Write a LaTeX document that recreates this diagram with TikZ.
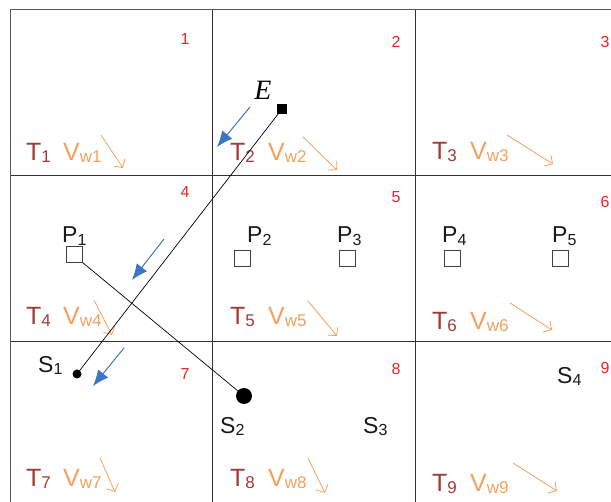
\documentclass[tikz,border=0pt]{standalone}
\usepackage{fontspec}
\setmainfont{Liberation Sans}
\newfontfamily\serifE{Liberation Serif}
\usetikzlibrary{arrows.meta}
\definecolor{tred}{HTML}{A23B36}
\definecolor{vorange}{HTML}{F4A05C}
\definecolor{nred}{HTML}{EE2229}
\definecolor{eblue}{HTML}{3A76C2}
\newcommand\lsub[3]{\raisebox{#1}{\fontsize{#2}{#2}\selectfont #3}}
\begin{document}
\begin{tikzpicture}[x=1pt,y=-1pt,
  grid/.style={line width=1pt, black!80},
  tlab/.style={anchor=base west, inner sep=0pt, text=tred, font=\fontsize{25}{25}\selectfont},
  vlab/.style={anchor=base west, inner sep=0pt, text=vorange, font=\fontsize{25}{25}\selectfont},
  num/.style={text=nred, font=\fontsize{16}{16}\selectfont, inner sep=0pt},
  plab/.style={anchor=base west, inner sep=0pt, text=black!90, font=\fontsize{23}{23}\selectfont},
  psq/.style={draw=black!75, line width=0.8pt, minimum size=16pt, inner sep=0pt},
  wind/.style={vorange, line width=0.8pt, -{Straight Barb[length=6pt,width=13pt]}},
  flow/.style={eblue, line width=1pt, -{Latex[length=16pt,width=13pt]}},
  link/.style={black, line width=0.7pt},
  dot/.style={circle, fill=black, inner sep=0pt},
]
\useasboundingbox (0,0) rectangle (611,502);
% grid
\draw[grid, black!65] (10.5,502) -- (10.5,10) -- (611,10);
\draw[grid] (212,10) -- (212,502);
\draw[grid] (415.5,10) -- (415.5,502);
\draw[grid] (10.5,175.5) -- (611,175.5);
\draw[grid] (10.5,341.5) -- (611,341.5);
% cell numbers
\foreach \n/\x/\y in {1/185/39,2/396/42,3/605/42,4/185/192,5/396/197,6/605/202,7/185/374,8/396/369,9/605/368}
  \node[num] (n\n) at (\x,\y) {\n};
% T and V labels
\foreach \n/\tx/\vx/\y in {1/26/63/161,2/230/268/161,3/432/470/160,4/26/63/325,5/230/268/325,6/432/470/330,7/26/63/487,8/230/268/487,9/432/470/492}{
  \node[tlab] (t\n) at (\tx,\y) {T\lsub{-1.5pt}{17}{\n}};
  \node[vlab] (v\n) at (\vx,\y) {V\lsub{-1.5pt}{17}{w\n}};
}
% wind arrows
\foreach \i/\a/\b/\c/\d in {1/101/135/123/168,2/303/137/337/170,3/507/135/553/164,4/94/300/112/335,5/308/301/337/336,6/510/303/552/330,7/100/458/115/492,8/308/458/325/493,9/513/463/557/491}{
  \coordinate (ws\i) at (\a,\b);
  \coordinate (we\i) at (\c,\d);
  \draw[wind] (ws\i) -- (we\i);
}
% P squares and labels
\foreach \n/\x/\y/\lx in {1/74/254/62,2/242/258/247,3/347/258/337,4/452/258/442,5/560/258/552}{
  \node[psq] (P\n) at (\x,\y) {};
  \node[plab] (pl\n) at (\lx,243) {P\lsub{-3pt}{16}{\n}};
}
% E source
\node[fill=black, minimum size=10pt, inner sep=0pt] (Esq) at (282,109) {};
\node[font=\serifE\itshape\fontsize{28}{28}\selectfont, inner sep=0pt] (Elab) at (263,90) {E};
% S points
\node[dot, minimum size=9pt] (S1) at (77,374) {};
\node[dot, minimum size=16pt] (S2) at (244,396) {};
\node[plab] (sl1) at (38,373) {S\lsub{-2pt}{16}{1}};
\node[plab] (sl2) at (220,434) {S\lsub{-2pt}{16}{2}};
\node[plab] (sl3) at (363,434) {S\lsub{-2pt}{16}{3}};
\node[plab] (sl4) at (557,384) {S\lsub{-2pt}{16}{4}};
% links
\draw[link] (Esq.center) -- (S1.center);
\draw[link] (P1.south east) -- (S2.center);
% blue flow arrows
\coordinate (fa1) at (250,107); \coordinate (fb1) at (217,147);
\coordinate (fa2) at (164,239); \coordinate (fb2) at (132,280);
\coordinate (fa3) at (124,348); \coordinate (fb3) at (93,386);
\draw[flow] (fa1) -- (fb1);
\draw[flow] (fa2) -- (fb2);
\draw[flow] (fa3) -- (fb3);
\end{tikzpicture}
\end{document}
